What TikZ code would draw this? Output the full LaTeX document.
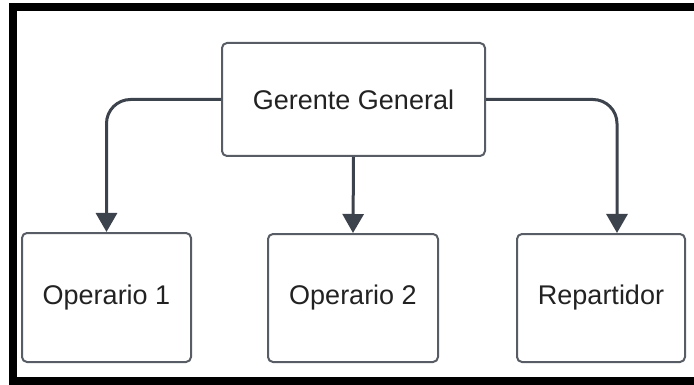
\documentclass[tikz,border=0pt]{standalone}
\usepackage{fontspec}
\setmainfont{Liberation Sans}
\usetikzlibrary{arrows.meta}
\definecolor{linegray}{HTML}{3D434C}
\definecolor{boxgray}{HTML}{585D65}
\definecolor{txtgray}{HTML}{222222}

\begin{document}
\begin{tikzpicture}[x=1pt,y=-1pt,>={Triangle[width=21pt,length=19pt]},line join=round,
  card/.style={draw=boxgray,line width=2pt,rounded corners=5pt,fill=white,
    text=txtgray,font=\fontsize{27}{32}\selectfont,inner sep=0pt},
  link/.style={->,draw=linegray,line width=3pt,rounded corners=24pt}]
\useasboundingbox (0,0) rectangle (694,385);
\draw[line width=8pt,line join=miter] (694,7) -- (13,7) -- (13,381) -- (694,381);
\node[card,minimum width=263pt,minimum height=113pt] (ger) at (353.5,99.5) {Gerente General};
\node[card,minimum width=169pt,minimum height=129pt] (op1) at (106.5,297.5) {Operario 1};
\node[card,minimum width=170pt,minimum height=128pt] (op2) at (353,298) {Operario 2};
\node[card,minimum width=168pt,minimum height=128pt] (rep) at (601,298) {Repartidor};
\coordinate (repin) at ([xshift=16pt]rep.north);
\draw[link] (ger.west) -| (op1.north);
\draw[link] (ger.south) -- (op2.north);
\draw[link] (ger.east) -| (repin);
\end{tikzpicture}
\end{document}
